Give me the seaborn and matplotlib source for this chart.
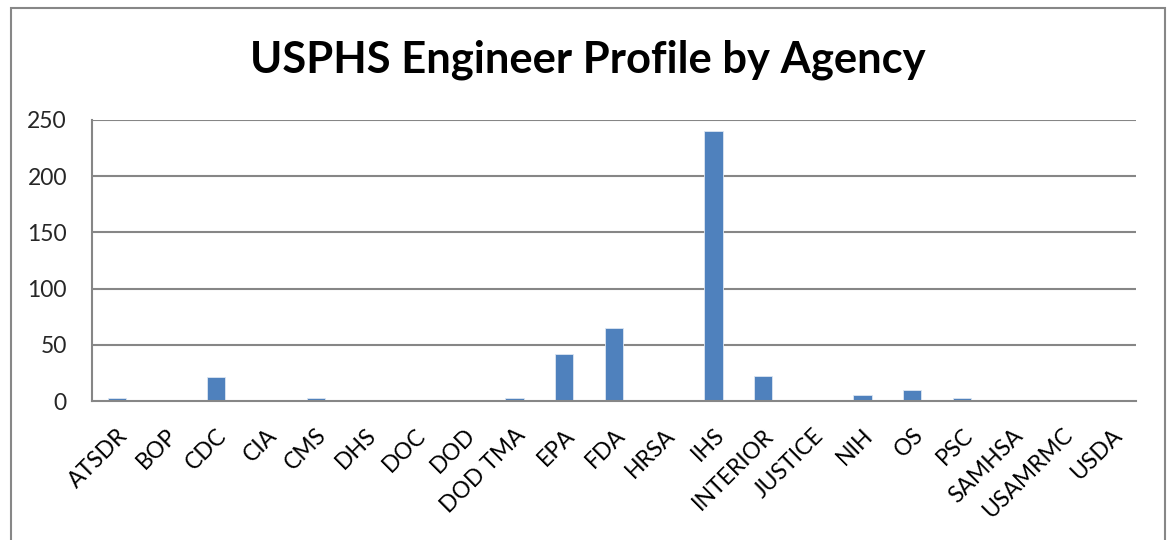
import matplotlib
matplotlib.use("Agg")
import matplotlib.pyplot as plt
import seaborn as sns
import pandas as pd
from matplotlib.patches import Rectangle

agencies = ["ATSDR", "BOP", "CDC", "CIA", "CMS", "DHS", "DOC", "DOD", "DOD TMA",
            "EPA", "FDA", "HRSA", "IHS", "INTERIOR", "JUSTICE", "NIH", "OS", "PSC",
            "SAMHSA", "USAMRMC", "USDA"]
engineers = [3, 1, 21, 0, 3, 1, 0, 0, 3, 42, 65, 1, 240, 22, 0, 5, 10, 3, 1, 1, 0]
y_ticks = [0, 50, 100, 150, 200, 250]
title = "USPHS Engineer Profile by Agency"

sns.set_theme(style="white")
plt.rcParams["font.family"] = ["Lato", "DejaVu Sans"]

df = pd.DataFrame({"agency": agencies, "count": engineers})

fig = plt.figure(figsize=(11.7, 5.4), dpi=100)
W, H = 1170, 540
ax = fig.add_axes([92 / W, 1 - 401 / H, (1136 - 92) / W, (401 - 120) / H])

sns.barplot(data=df, x="agency", y="count", color="#4F81BD", saturation=1,
            width=0.37, ax=ax, edgecolor="#DCE6F2", linewidth=0.6)

grid_c = "#868686"
ax.set_ylim(0, 250)
ax.set_xlim(-0.5, len(agencies) - 0.5)
ax.set_yticks(y_ticks)
ax.set_yticklabels([str(v) for v in y_ticks])
for v in y_ticks[1:]:
    ax.axhline(v, color=grid_c, lw=1.5, zorder=0)

ax.set_xticks(range(len(agencies)))
ax.set_xticklabels(agencies, rotation=45, ha="right", rotation_mode="anchor")
ax.set_xticks([i - 0.5 for i in range(len(agencies) + 1)], minor=True)
ax.tick_params(axis="x", which="major", length=0, pad=17, labelsize=16.5, colors="black")
ax.tick_params(axis="x", which="minor", length=7, width=1.5, color=grid_c, direction="out")
ax.tick_params(axis="y", which="major", length=7, width=1.5, color=grid_c, direction="out",
               labelsize=16.5, pad=11)
ax.set_xlabel("")
ax.set_ylabel("")

for s in ["top", "right"]:
    ax.spines[s].set_visible(False)
for s in ["left", "bottom"]:
    ax.spines[s].set_visible(True)
    ax.spines[s].set_color(grid_c)
    ax.spines[s].set_linewidth(1.5)

fig.text(588 / W, 1 - 60 / H, title, ha="center", va="center",
         fontsize=31.3, fontweight="bold", color="black")

fig.patches.append(Rectangle((11 / W, -0.02), (1165 - 11) / W, 1 - 8 / H + 0.02,
                             transform=fig.transFigure, fill=False,
                             edgecolor="#878787", lw=1.5))

fig.savefig("out.png", dpi=100)
